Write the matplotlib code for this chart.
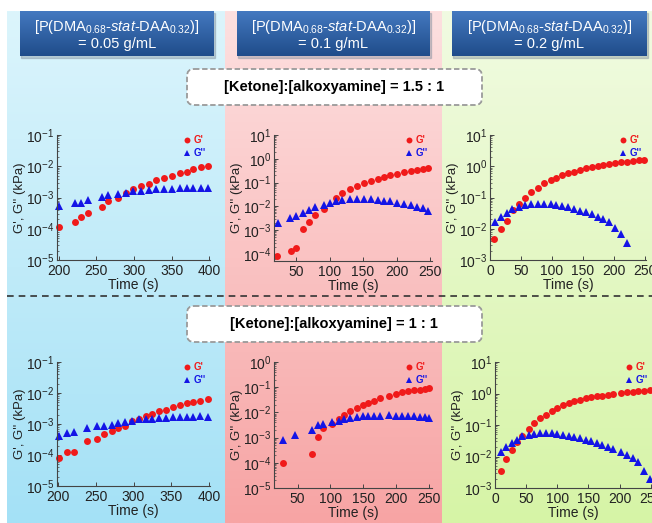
import numpy as np
import matplotlib
matplotlib.use("Agg")
import matplotlib.pyplot as plt
from matplotlib.patches import FancyBboxPatch, Rectangle
from matplotlib.ticker import LogLocator, NullFormatter

plt.rcParams['font.family'] = ['Liberation Sans', 'DejaVu Sans']
plt.rcParams['mathtext.fontset'] = 'custom'
plt.rcParams['mathtext.rm'] = 'Liberation Sans'
plt.rcParams['mathtext.it'] = 'Liberation Sans:italic'
plt.rcParams['mathtext.bf'] = 'Liberation Sans:bold'

# ---- data ----
conc_labels = ["= 0.05 g/mL", "= 0.1 g/mL", "= 0.2 g/mL"]
ratio_labels = ["[Ketone]:[alkoxyamine] = 1.5 : 1", "[Ketone]:[alkoxyamine] = 1 : 1"]

# 0.05 g/mL, 1.5:1
t_a1 = [200, 222, 230, 239, 258, 266, 279, 289, 299, 310, 320, 329, 340, 351, 361, 370, 379, 389, 399]
gp_a1 = [1.1e-4, 1.7e-4, 2.3e-4, 3.1e-4, 5.1e-4, 7.9e-4, 9.4e-4, 1.43e-3, 1.87e-3, 2.3e-3,
         2.8e-3, 3.5e-3, 4.2e-3, 5.0e-3, 5.9e-3, 6.7e-3, 8.0e-3, 9.2e-3, 1.05e-2]
gpp_a1 = [5.3e-4, 6.5e-4, 6.8e-4, 8.3e-4, 1.06e-3, 1.2e-3, 1.26e-3, 1.43e-3, 1.61e-3, 1.61e-3,
          1.74e-3, 1.82e-3, 1.87e-3, 1.87e-3, 1.96e-3, 1.96e-3, 2.0e-3, 2.0e-3, 1.96e-3]

# 0.1 g/mL, 1.5:1
t_b1_gp = [22, 42, 50, 60, 69.5, 78, 91, 109.6, 118.7, 131, 141.7, 152, 162, 172, 181, 191,
           201, 211, 221, 231, 239, 247.5]
gp_b1 = [8.5e-5, 1.26e-4, 1.74e-4, 1.1e-3, 2.1e-3, 4.4e-3, 7.8e-3, 2.2e-2, 3.6e-2, 5.4e-2,
         7.2e-2, 0.10, 0.12, 0.146, 0.178, 0.21, 0.24, 0.27, 0.31, 0.34, 0.37, 0.40]
t_b1_gpp = [23, 41, 50, 60, 69.5, 78, 91, 100, 109.6, 118.7, 131, 141.7, 152, 162, 172, 181,
            191, 201, 211, 221, 231, 239, 247.5]
gpp_b1 = [1.95e-3, 3.2e-3, 4.0e-3, 5.1e-3, 7.1e-3, 9.8e-3, 1.15e-2, 1.44e-2, 1.75e-2, 1.87e-2,
          2.0e-2, 2.0e-2, 2.0e-2, 1.98e-2, 1.87e-2, 1.75e-2, 1.6e-2, 1.44e-2, 1.23e-2, 1.1e-2,
          9.8e-3, 8.3e-3, 6.6e-3]

# 0.2 g/mL, 1.5:1
t_c1_gp = [7, 17, 27, 37, 47, 56, 67, 77.5, 88, 98, 107, 117, 126, 136, 145, 155, 164, 174,
           183, 193, 202, 212, 221, 231, 240, 248]
gp_c1 = [4.6e-3, 9.5e-3, 1.8e-2, 4.0e-2, 6.0e-2, 9.9e-2, 0.154, 0.207, 0.284, 0.355, 0.43,
         0.51, 0.59, 0.67, 0.76, 0.86, 0.92, 1.02, 1.10, 1.18, 1.27, 1.33, 1.40, 1.47, 1.55, 1.62]
t_c1_gpp = [8, 17, 27, 35, 47, 57, 67, 77.5, 88, 98, 107, 117, 126, 136, 145, 155, 164, 174,
            183, 193, 202, 212, 222]
gpp_c1 = [1.7e-2, 2.44e-2, 3.1e-2, 4.3e-2, 5.1e-2, 5.8e-2, 6.0e-2, 6.2e-2, 6.2e-2, 6.0e-2,
          5.6e-2, 5.2e-2, 4.8e-2, 4.3e-2, 3.8e-2, 3.35e-2, 2.9e-2, 2.44e-2, 2.0e-2, 1.7e-2,
          1.03e-2, 6.6e-3, 3.6e-3]

# 0.05 g/mL, 1:1
t_a2 = [202, 212, 221, 239, 252, 261, 271, 280, 289, 298, 307, 316, 325, 334, 343, 352, 361,
        370, 379, 388, 398]
gp_a2 = [8.2e-5, 1.27e-4, 1.27e-4, 2.8e-4, 3.4e-4, 4.6e-4, 6.0e-4, 7.5e-4, 8.7e-4, 1.23e-3,
         1.5e-3, 1.83e-3, 2.18e-3, 2.6e-3, 2.9e-3, 3.47e-3, 4.0e-3, 4.7e-3, 5.2e-3, 5.7e-3, 6.5e-3]
gpp_a2 = [4.1e-4, 5.2e-4, 5.6e-4, 7.7e-4, 8.5e-4, 8.9e-4, 9.1e-4, 1.04e-3, 1.15e-3, 1.23e-3,
          1.4e-3, 1.4e-3, 1.5e-3, 1.62e-3, 1.62e-3, 1.7e-3, 1.7e-3, 1.7e-3, 1.7e-3, 1.79e-3, 1.7e-3]

# 0.1 g/mL, 1:1
t_b2_gp = [27, 72, 81, 89, 102, 113, 121, 130, 140, 150, 157, 166, 176, 189, 200, 209, 218,
           227, 236, 244, 250]
gp_b2 = [9.8e-5, 2.3e-4, 1.02e-3, 2.4e-3, 3.45e-3, 5.5e-3, 8.1e-3, 1.1e-2, 1.45e-2, 1.9e-2,
         2.35e-2, 2.9e-2, 3.7e-2, 4.3e-2, 5.4e-2, 6.3e-2, 6.9e-2, 7.5e-2, 8.0e-2, 8.7e-2, 9.6e-2]
t_b2_gpp = [27, 46, 72, 81, 89, 102, 113, 121, 130, 140, 150, 157, 166, 176, 189, 200, 209,
            218, 227, 236, 244, 250]
gpp_b2 = [8.3e-4, 1.3e-3, 2.0e-3, 3.1e-3, 3.5e-3, 4.2e-3, 4.4e-3, 5.6e-3, 6.2e-3, 6.6e-3,
          6.9e-3, 6.9e-3, 6.9e-3, 6.9e-3, 7.9e-3, 7.4e-3, 6.9e-3, 6.9e-3, 6.9e-3, 6.6e-3, 6.6e-3, 6.0e-3]

# 0.2 g/mL, 1:1
t_c2 = [9, 18, 27, 36, 44, 54, 62, 72, 82, 91, 100, 109, 118, 127, 136, 146, 154, 163, 172,
        181, 189, 203, 212, 221, 230, 239, 248]
gp_c2 = [3.5e-3, 8.5e-3, 1.6e-2, 2.9e-2, 4.6e-2, 7.6e-2, 0.115, 0.166, 0.21, 0.285, 0.35, 0.43,
         0.49, 0.56, 0.64, 0.70, 0.76, 0.82, 0.85, 0.92, 0.99, 1.04, 1.09, 1.12, 1.17, 1.23, 1.29]
gpp_c2 = [1.42e-2, 1.96e-2, 2.7e-2, 3.4e-2, 4.4e-2, 4.8e-2, 5.2e-2, 5.4e-2, 5.5e-2, 5.4e-2,
          5.2e-2, 4.9e-2, 4.6e-2, 4.2e-2, 3.9e-2, 3.4e-2, 3.0e-2, 2.7e-2, 2.4e-2, 2.0e-2, 1.73e-2,
          1.36e-2, 1.15e-2, 8.9e-3, 6.5e-3, 3.5e-3, 1.95e-3]

W, H = 652, 523
fig = plt.figure(figsize=(W / 100, H / 100), dpi=100)

# ---- background layer in pixel coordinates ----
bg = fig.add_axes([0, 0, 1, 1])
bg.set_xlim(0, W)
bg.set_ylim(H, 0)
bg.axis('off')

def vgrad(ax, x0, x1, y0, y1, c_top, c_bot, z=0):
    top = np.array(matplotlib.colors.to_rgb(c_top))
    bot = np.array(matplotlib.colors.to_rgb(c_bot))
    f = np.linspace(0, 1, 256)[:, None, None]
    img = top * (1 - f) + bot * f
    ax.imshow(img, extent=(x0, x1, y1, y0), aspect='auto', origin='upper', zorder=z,
              interpolation='bilinear')

col_edges = [(7, 225), (225, 442), (442, W)]
col_colors = [("#dcf5fc", "#a4e1f6"), ("#fde0e0", "#f7a4a4"), ("#f1fbe2", "#d6f4a6")]
for (x0, x1), (ct, cb) in zip(col_edges, col_colors):
    vgrad(bg, x0, x1, 11, H, ct, cb)

# header boxes
head_x = [(20, 214), (237, 430), (452, 647)]
for (x0, x1), lab in zip(head_x, conc_labels):
    bg.add_patch(Rectangle((x0 + 1, 13), x1 - x0, 45, color='#7d8a99', alpha=0.4, zorder=1))
    vgrad(bg, x0, x1, 11, 56, "#4479c0", "#1f4c8a", z=2)
    xc = (x0 + x1) / 2
    bg.text(xc, 27, r"[P(DMA$_{0.68}$-$\mathit{stat}$-DAA$_{0.32}$)]", color='white',
            fontsize=10.5, ha='center', va='center', zorder=3)
    bg.text(xc, 44, lab, color='white', fontsize=10.5, ha='center', va='center', zorder=3)

# ratio boxes
for yc, lab in zip([87, 324], ratio_labels):
    bg.add_patch(FancyBboxPatch((187, yc - 18), 295, 36,
                                boxstyle="round,pad=0,rounding_size=7",
                                facecolor='white', edgecolor='#9a9a9a', lw=1.3,
                                linestyle=(0, (3, 1.5)), zorder=3))
    bg.text(334, yc, lab, fontsize=10.5, fontweight='bold', ha='center', va='center', zorder=4)

# row separator
bg.plot([7, W], [296, 296], color='#333333', lw=1.2, linestyle=(0, (4, 3)), zorder=3)

# ---- the six plots ----
def fr(x0, x1, ytop, ybot):
    return [x0 / W, 1 - ybot / H, (x1 - x0) / W, (ybot - ytop) / H]

panels = [
    (fr(57, 210, 135, 260), t_a1, gp_a1, t_a1, gpp_a1, (198, 401), (1e-5, 1e-1), [200, 250, 300, 350, 400]),
    (fr(274, 432, 135, 261), t_b1_gp, gp_b1, t_b1_gpp, gpp_b1, (17, 253), (10 ** -4.3, 10), [50, 100, 150, 200, 250]),
    (fr(490, 646, 135, 260), t_c1_gp, gp_c1, t_c1_gpp, gpp_c1, (0, 252), (1e-3, 10), [0, 50, 100, 150, 200, 250]),
    (fr(57, 210, 362, 486), t_a2, gp_a2, t_a2, gpp_a2, (199, 401), (1e-5, 1e-1), [200, 250, 300, 350, 400]),
    (fr(274, 432, 362, 488), t_b2_gp, gp_b2, t_b2_gpp, gpp_b2, (14, 255), (1e-5, 1), [50, 100, 150, 200, 250]),
    (fr(495, 652, 362, 488), t_c2, gp_c2, t_c2, gpp_c2, (0, 252), (1e-3, 10), [0, 50, 100, 150, 200, 250]),
]

for rect, tg1, g1, tg2, g2, xl, yl, xt in panels:
    ax = fig.add_axes(rect)
    ax.set_facecolor('none')
    ax.plot(tg1, g1, 'o', color='#f01a1a', ms=5, mew=0, label="G'", clip_on=False)
    ax.plot(tg2, g2, '^', color='#1414e6', ms=5.5, mew=0, label="G''", clip_on=False)
    ax.set_yscale('log')
    ax.set_xlim(*xl)
    ax.set_ylim(*yl)
    ax.set_xticks(xt)
    ax.yaxis.set_major_locator(LogLocator(base=10, numticks=12))
    ax.yaxis.set_minor_locator(LogLocator(base=10, subs=np.arange(2, 10), numticks=12))
    ax.yaxis.set_minor_formatter(NullFormatter())
    for s in ['top', 'right']:
        ax.spines[s].set_visible(False)
    for s in ['left', 'bottom']:
        ax.spines[s].set_color('#444444')
        ax.spines[s].set_linewidth(0.8)
    ax.tick_params(which='major', direction='in', length=3, width=0.7, colors='#444444',
                   labelsize=10, labelcolor='#222222', pad=2)
    ax.tick_params(axis='x', pad=3)
    ax.tick_params(which='minor', direction='in', length=1.5, width=0.5, colors='#444444')
    ax.set_xlabel("Time (s)", fontsize=10, labelpad=0, color='#222222')
    ax.set_ylabel("G', G'' (kPa)", fontsize=9.5, labelpad=0, color='#222222')
    ax.legend(loc='upper right', bbox_to_anchor=(1.0, 1.03), frameon=False,
              labelcolor='linecolor', handletextpad=0.2, labelspacing=0.3,
              borderaxespad=0.0, handlelength=1.0, markerscale=0.85,
              prop={'weight': 'bold', 'size': 7})

fig.savefig("out.png", dpi=100)
